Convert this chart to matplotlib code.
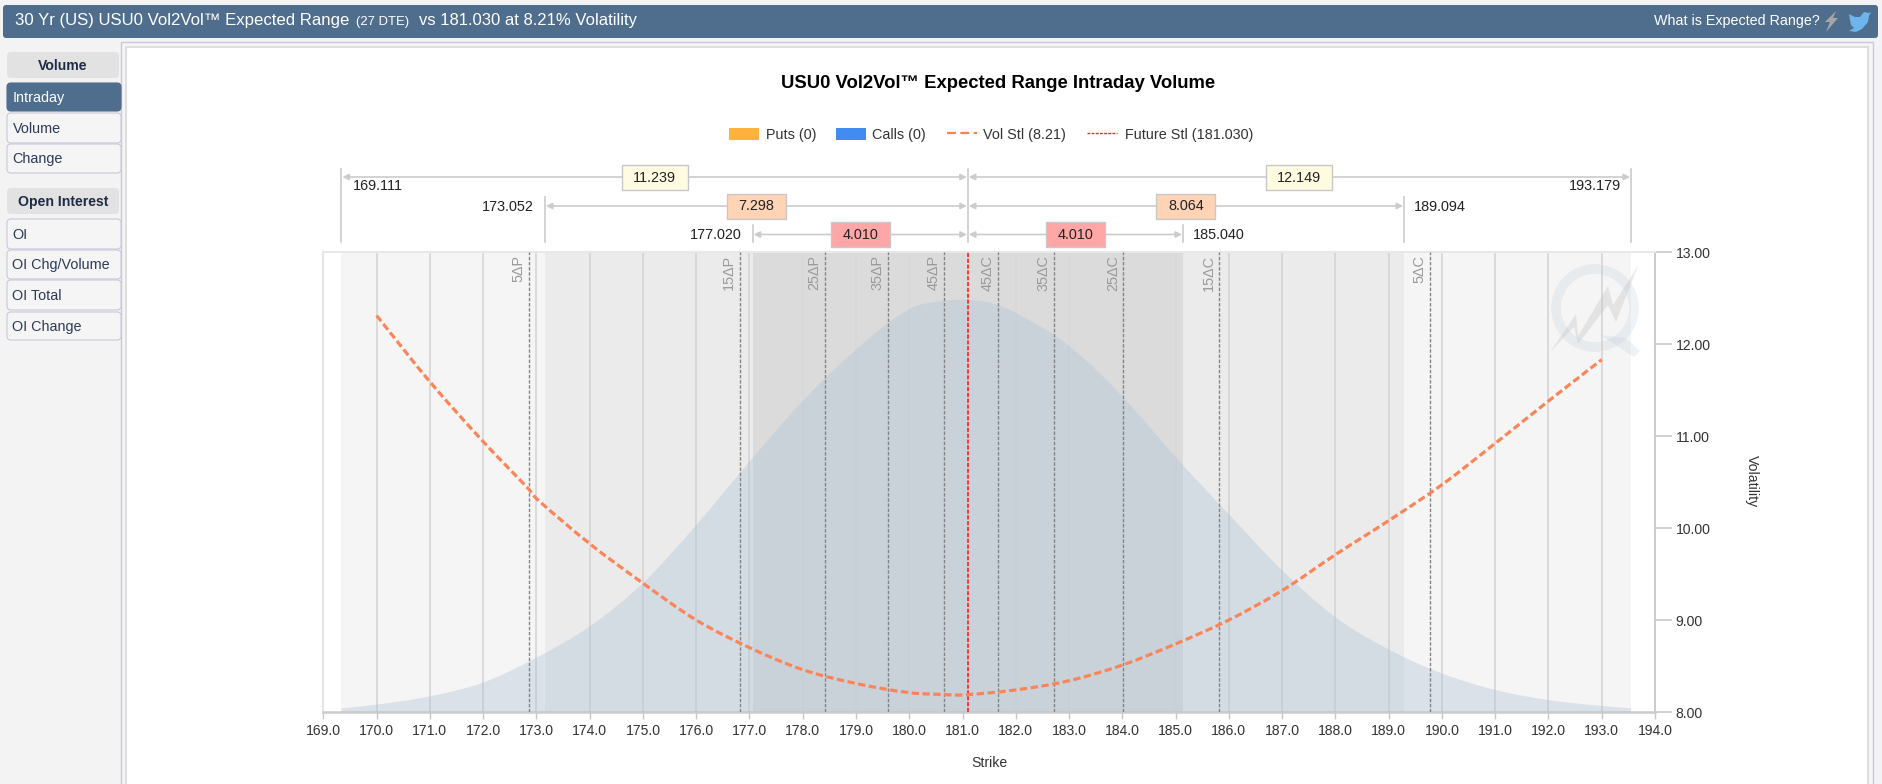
import matplotlib
matplotlib.use('Agg')
import matplotlib.pyplot as plt
from matplotlib.patches import Rectangle, FancyBboxPatch, Circle, Polygon, PathPatch
from matplotlib.path import Path

plt.rcParams['font.family'] = ['Liberation Sans', 'DejaVu Sans']

# Curve readings
bell_x = [169.34, 170, 171, 172, 173, 174, 175, 176, 177, 178, 179, 180, 180.65, 181, 181.5,
          182, 183, 184, 185, 186, 187, 188, 189, 190, 191, 192, 193, 193.55]
bell_y = [8.04, 8.08, 8.17, 8.32, 8.59, 8.93, 9.40, 10.03, 10.72, 11.38, 11.94, 12.38, 12.47, 12.48, 12.45,
          12.34, 11.98, 11.43, 10.77, 10.15, 9.54, 9.03, 8.68, 8.42, 8.24, 8.13, 8.065, 8.04]
vol_x = [170, 171, 172, 172.86, 173, 174, 175, 176, 177, 178, 179, 180, 180.65, 181,
         182, 183, 184, 185, 186, 187, 188, 189, 190, 191, 192, 193]
vol_y = [12.31, 11.59, 10.94, 10.42, 10.32, 9.83, 9.40, 9.00, 8.70, 8.46, 8.31, 8.21, 8.19, 8.185,
         8.24, 8.34, 8.51, 8.74, 9.00, 9.32, 9.71, 10.08, 10.47, 10.92, 11.38, 11.83]

# Delta strikes
delta_labels = ['5ΔP', '15ΔP', '25ΔP', '35ΔP', '45ΔP', '45ΔC', '35ΔC', '25ΔC', '15ΔC', '5ΔC']
delta_x = [172.86, 176.82, 178.41, 179.60, 180.65, 181.66, 182.72, 184.02, 185.82, 189.78]
settle_x = 181.10

# Expected range brackets, widest first
range_left_x = [169.34, 173.16, 177.06]
range_right_x = [193.55, 189.29, 185.14]
range_left_text = ['169.111', '173.052', '177.020']
range_right_text = ['193.179', '189.094', '185.040']
range_left_size = ['11.239', '7.298', '4.010']
range_right_size = ['12.149', '8.064', '4.010']
range_colors = ['#fffbe0', '#ffd3b6', '#ffa6a6']

x_ticks = list(range(169, 195))
y_ticks = [8, 9, 10, 11, 12, 13]

menu_volume = ['Intraday', 'Volume', 'Change']
menu_oi = ['OI', 'OI Chg/Volume', 'OI Total', 'OI Change']

W, H = 1882, 784
AX_L, AX_R, AX_T, AX_B = 323.3, 1655.0, 252.0, 712.0
PX_UNIT = (AX_R - AX_L) / 25
PT = 0.72
NAVY = '#4f6d8c'

fig = plt.figure(figsize=(W / 100, H / 100), dpi=100, facecolor='#f3f3f3')


def pixel_axes(z):
    a = fig.add_axes([0, 0, 1, 1], zorder=z)
    a.set_xlim(0, W)
    a.set_ylim(H, 0)
    a.axis('off')
    a.patch.set_alpha(0)
    return a


def smooth_verts(xs, ys):
    # bezier segments passing through the read points, the source chart is splined too
    verts = [(xs[0], ys[0])]
    codes = [Path.MOVETO]
    n = len(xs)
    for i in range(n - 1):
        a, b = max(i - 1, 0), min(i + 2, n - 1)
        h = xs[i + 1] - xs[i]
        m0 = (ys[i + 1] - ys[a]) / (xs[i + 1] - xs[a])
        m1 = (ys[b] - ys[i]) / (xs[b] - xs[i])
        verts += [(xs[i] + h / 3, ys[i] + m0 * h / 3), (xs[i + 1] - h / 3, ys[i + 1] - m1 * h / 3), (xs[i + 1], ys[i + 1])]
        codes += [Path.CURVE4] * 3
    return verts, codes


chrome = pixel_axes(0)
ax = fig.add_axes([AX_L / W, 1 - AX_B / H, (AX_R - AX_L) / W, (AX_B - AX_T) / H], zorder=1)
top = pixel_axes(2)

# Page frame
chrome.add_patch(FancyBboxPatch((3, 5), 1875, 33, boxstyle='round,pad=0,rounding_size=3', fc=NAVY, ec='none'))
chrome.add_patch(Rectangle((121, 42), 1752, 760, fc='#f5f5f5', ec='#c9c9dc', lw=1))
chrome.add_patch(Rectangle((126, 47), 1742, 760, fc='white', ec='#dedede', lw=1.5))

chrome.text(15, 20.5, '30 Yr (US) USU0 Vol2Vol™ Expected Range', color='white', fontsize=16.8 * PT, va='center')
chrome.text(356, 21.5, '(27 DTE)', color='white', fontsize=13 * PT, va='center')
chrome.text(419, 20.5, 'vs 181.030 at 8.21% Volatility', color='white', fontsize=16.6 * PT, va='center')
chrome.text(1654.5, 20.5, 'What is Expected Range?', color='white', fontsize=14.2 * PT, va='center')
chrome.add_patch(Polygon([(1836, 11), (1825, 22), (1830, 22), (1826, 32), (1838, 18), (1833, 18)], fc='#a6a6a6', ec='none'))
chrome.add_patch(Polygon([(1849, 14), (1855, 17), (1860, 17), (1864, 12), (1869, 13), (1871, 12), (1869, 16),
                          (1868, 22), (1862, 29), (1856, 32), (1849, 31), (1854, 28), (1851, 25), (1850, 20)],
                         fc='#6db5ea', ec='none'))


def menu_header(y0, y1, label):
    chrome.add_patch(FancyBboxPatch((7, y0), 112, y1 - y0, boxstyle='round,pad=0,rounding_size=4', fc='#e2e2e2', ec='none'))
    chrome.text(63, (y0 + y1) / 2 + 0.5, label, color='#1d2b45', fontsize=14 * PT, fontweight='bold', ha='center', va='center')


def menu_item(y0, y1, label, active=False):
    chrome.add_patch(FancyBboxPatch((7, y0), 114, y1 - y0, boxstyle='round,pad=0,rounding_size=4',
                                    fc=NAVY if active else '#f5f5f5', ec=NAVY if active else '#c9c9dc', lw=0.8))
    chrome.text(12.5, (y0 + y1) / 2 + 0.5, label, color='white' if active else '#2c3b57', fontsize=14.4 * PT, va='center')


menu_header(52, 78, 'Volume')
for (y0, y1), label in zip([(83, 111), (113, 143), (144, 173)], menu_volume):
    menu_item(y0, y1, label, label == 'Intraday')
menu_header(188, 214, 'Open Interest')
for (y0, y1), label in zip([(219, 249), (250, 279), (280, 310), (312, 340)], menu_oi):
    menu_item(y0, y1, label)

# Legend
chrome.text(998, 83.5, 'USU0 Vol2Vol™ Expected Range Intraday Volume', color='black', fontsize=18.5 * PT,
            fontweight='bold', ha='center', va='center')
chrome.add_patch(Rectangle((729.5, 128), 30, 12, fc='#ffb13d', ec='none'))
chrome.text(766, 134.5, 'Puts (0)', color='#333333', fontsize=14.4 * PT, va='center')
chrome.add_patch(Rectangle((836, 128), 30, 12, fc='#428bf0', ec='none'))
chrome.text(872.5, 134.5, 'Calls (0)', color='#333333', fontsize=14.4 * PT, va='center')
chrome.plot([947, 977], [133, 133], color='#ff7f50', lw=1.6, dashes=(4, 2))
chrome.text(983, 134.5, 'Vol Stl (8.21)', color='#333333', fontsize=14.4 * PT, va='center')
chrome.plot([1087, 1117], [133, 133], color='#ff2020', lw=1, dashes=(2, 1))
chrome.text(1125, 134.5, 'Future Stl (181.030)', color='#333333', fontsize=14.4 * PT, va='center')

# Plot area
ax.set_xlim(169, 194)
ax.set_ylim(8, 13)
ax.axvspan(range_left_x[0], range_right_x[0], color='#f5f5f5', lw=0, zorder=1)
ax.axvspan(range_left_x[1], range_right_x[1], color='#ebebeb', lw=0, zorder=1.1)
ax.set_xticks(x_ticks)
ax.set_xticklabels([f'{t:.1f}' for t in x_ticks], fontsize=14 * PT, color='#333333')
ax.set_yticks(y_ticks)
ax.set_yticklabels([f'{t:.2f}' for t in y_ticks], fontsize=14 * PT, color='#333333', va='center_baseline')
ax.yaxis.tick_right()
ax.tick_params(axis='x', length=5, width=1, color='#c8c8c8', pad=3.5)
ax.tick_params(axis='y', length=12.5, width=1.2, color='#c8c8c8', pad=2.5)
for t in x_ticks[1:-1]:
    ax.axvline(t, color='#d2d2d2', lw=1.1, zorder=1.5)
ax.axvspan(range_left_x[2], range_right_x[2], color='#d9d9d9', alpha=0.88, lw=0, zorder=2)

verts, codes = smooth_verts(bell_x, bell_y)
verts = verts + [(bell_x[-1], 8), (bell_x[0], 8), verts[0]]
codes = codes + [Path.LINETO, Path.LINETO, Path.CLOSEPOLY]
ax.add_patch(PathPatch(Path(verts, codes), fc='#aec2d8', ec='none', alpha=0.38, zorder=3))

for x, label in zip(delta_x, delta_labels):
    ax.axvline(x, color='#858585', lw=1, dashes=(2.5, 1.2), zorder=4)
    ax.text(x - 3.5 / PX_UNIT, 1 - 3 / (AX_B - AX_T), label, transform=ax.get_xaxis_transform(), rotation=90,
            ha='right', va='top', color='#9a9a9a', fontsize=14.4 * PT, zorder=4)
ax.axvline(settle_x, color='#ff2020', lw=1.2, dashes=(2.5, 1), zorder=5)
verts, codes = smooth_verts(vol_x, vol_y)
ax.add_patch(PathPatch(Path(verts, codes), fc='none', ec='#fa8559', lw=2.3, linestyle=(0, (2.3, 1.1)), zorder=6))

ax.spines['left'].set(color='#e6e6e6', lw=1.5)
ax.spines['top'].set(color='#e8e8e8', lw=1.5)
ax.spines['right'].set(color='#c4c4c4', lw=1.2)
ax.spines['bottom'].set(color='#cccccc', lw=1.8)

chrome.text(989, 763, 'Strike', color='#333333', fontsize=14 * PT, ha='center', va='center')
chrome.text(1752, 481, 'Volatility', color='#333333', fontsize=14 * PT, rotation=270, ha='center', va='center')

# Range brackets above the plot
trans = ax.get_xaxis_transform()
BOTTOM_Y = 242
row_y = [177, 206, 234.5]
row_top = [169, 197, 225]
label_y = [186, 206.7, 235]
box_w = [66, 59, 59]
to_ax = lambda py: (AX_B - py) / (AX_B - AX_T)
ax.plot([settle_x, settle_x], [to_ax(169), to_ax(BOTTOM_Y)], transform=trans, color='#cccccc', lw=1.2, clip_on=False)


def half_bracket(end_x, y, y_top, size_text, color, w):
    ax.plot([end_x, end_x], [to_ax(y_top), to_ax(BOTTOM_Y)], transform=trans, color='#cccccc', lw=1.2, clip_on=False)
    gap = 1 / PX_UNIT if end_x > settle_x else -1 / PX_UNIT
    ax.annotate('', xy=(end_x - gap, to_ax(y)), xytext=(settle_x + gap, to_ax(y)), xycoords=trans, textcoords=trans,
                arrowprops=dict(arrowstyle='<|-|>', color='#cccccc', lw=1.2, mutation_scale=9, shrinkA=0, shrinkB=0),
                annotation_clip=False)
    mid = (end_x + settle_x) / 2
    ax.add_patch(Rectangle((mid - w / 2 / PX_UNIT, to_ax(y + 12.5)), w / PX_UNIT, 25 / (AX_B - AX_T), transform=trans,
                           fc=color, ec='#c8c8c8', lw=1, clip_on=False, zorder=7))
    ax.text(mid, to_ax(y + 0.5), size_text, transform=trans, ha='center', va='center', fontsize=14.4 * PT,
            color='#222222', clip_on=False, zorder=8)


for i in range(3):
    half_bracket(range_left_x[i], row_y[i], row_top[i], range_left_size[i], range_colors[i], box_w[i])
    half_bracket(range_right_x[i], row_y[i], row_top[i], range_right_size[i], range_colors[i], box_w[i])

for i in range(3):
    # the outer labels sit inside their bracket, the others outside
    sign = 1 if i == 0 else -1
    ax.text(range_left_x[i] + sign * 11 / PX_UNIT, to_ax(label_y[i]), range_left_text[i], transform=trans,
            ha='left' if i == 0 else 'right', va='center', fontsize=14.4 * PT, color='#222222', clip_on=False)
    ax.text(range_right_x[i] - sign * 10 / PX_UNIT, to_ax(label_y[i]), range_right_text[i], transform=trans,
            ha='right' if i == 0 else 'left', va='center', fontsize=14.4 * PT, color='#222222', clip_on=False)

# Watermark logo
top.add_patch(Circle((1595, 308), 39, fc='none', ec='#b9c8d6', lw=7, alpha=0.22))
top.add_patch(Polygon([(1626, 338), (1640, 351), (1634, 357), (1600, 335)], fc='#b9c8d6', ec='none', alpha=0.22))
top.add_patch(Polygon([(1550, 352), (1576, 314), (1578, 336), (1608, 286), (1613, 305), (1638, 266),
                       (1616, 322), (1608, 305), (1578, 344), (1574, 327)], fc='#c4c4c4', ec='none', alpha=0.35))

fig.savefig('out.png', dpi=100, facecolor=fig.get_facecolor())
